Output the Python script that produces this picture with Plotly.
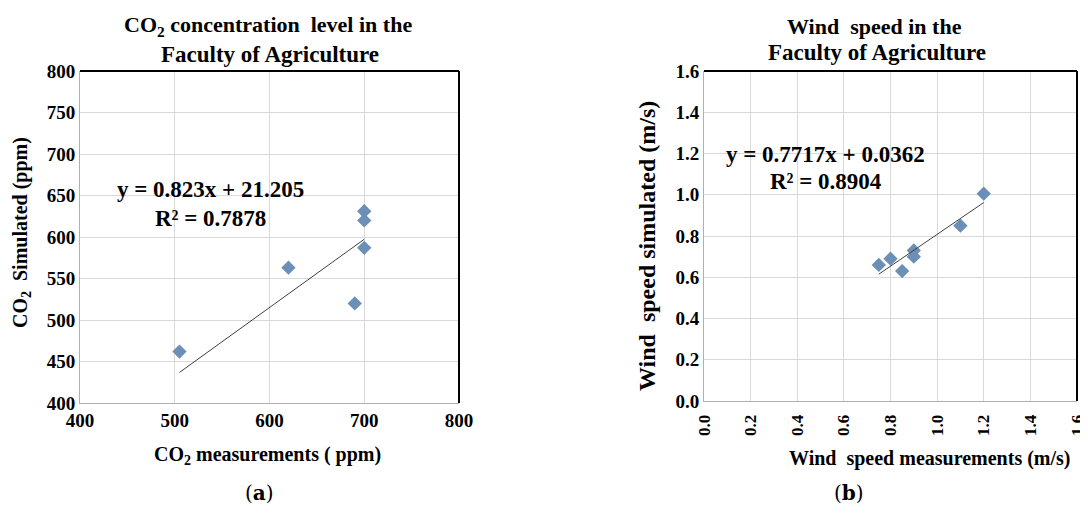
import plotly.graph_objects as go

# ---- data ----
co2_measured = [505, 620, 690, 700, 700, 700]
co2_simulated = [462, 563, 520, 631, 620, 587]
co2_slope, co2_intercept = 0.823, 21.205
co2_r2 = 0.7878

wind_measured = [0.75, 0.80, 0.85, 0.90, 0.90, 1.10, 1.20]
wind_simulated = [0.66, 0.69, 0.63, 0.73, 0.70, 0.85, 1.005]
wind_slope, wind_intercept = 0.7717, 0.0362
wind_r2 = 0.8904

co2_ticks = [400, 500, 600, 700, 800]
co2_yticks = [400, 450, 500, 550, 600, 650, 700, 750, 800]
wind_ticks = [0.0, 0.2, 0.4, 0.6, 0.8, 1.0, 1.2, 1.4, 1.6]

# page body has an 8px margin; size the figure to fit inside the window
OFF = 8
W, H = 1088 - OFF, 520 - OFF
FONT = "Liberation Serif"
MARKER = "#6b8fb6"

def px(x):
    return (x - OFF) / W

def py(y):
    return 1 - (y - OFF) / H

fig = go.Figure()

# CO2 scatter + trendline
fig.add_trace(go.Scatter(x=co2_measured, y=co2_simulated, mode="markers",
                         marker=dict(symbol="diamond", size=11, color=MARKER),
                         xaxis="x", yaxis="y", showlegend=False))
cx = [min(co2_measured), max(co2_measured)]
fig.add_trace(go.Scatter(x=cx, y=[co2_slope * v + co2_intercept for v in cx], mode="lines",
                         line=dict(color="#404040", width=1),
                         xaxis="x", yaxis="y", showlegend=False))

# Wind scatter + trendline
fig.add_trace(go.Scatter(x=wind_measured, y=wind_simulated, mode="markers",
                         marker=dict(symbol="diamond", size=11, color=MARKER),
                         xaxis="x2", yaxis="y2", showlegend=False))
wx = [min(wind_measured), max(wind_measured)]
fig.add_trace(go.Scatter(x=wx, y=[wind_slope * v + wind_intercept for v in wx], mode="lines",
                         line=dict(color="#404040", width=1),
                         xaxis="x2", yaxis="y2", showlegend=False))

tickfont = dict(family=FONT, size=19, color="black", weight="bold")
grid = "#d9d9d9"
axcommon = dict(showgrid=True, gridcolor=grid, gridwidth=1, zeroline=False,
                showline=True, linecolor="#b0b0b0", linewidth=1, ticks="",
                tickfont=tickfont, automargin=False, ticklabeloverflow="allow")
ax2x = dict(axcommon)
ax2x["tickfont"] = dict(family=FONT, size=17, color="black", weight="bold")

fig.update_layout(
    width=W, height=H,
    margin=dict(l=0, r=0, t=0, b=0),
    paper_bgcolor="white", plot_bgcolor="white",
    xaxis=dict(domain=[px(80), px(459)], range=[400, 800], tickvals=co2_ticks,
               anchor="y", **axcommon),
    yaxis=dict(domain=[py(403), py(71)], range=[400, 800], tickvals=co2_yticks,
               anchor="x", **axcommon),
    xaxis2=dict(domain=[px(704), px(1077)], range=[0, 1.6], tickvals=wind_ticks,
                tickformat=".1f", tickangle=-90, anchor="y2", ticklabelstandoff=6,
                **ax2x),
    yaxis2=dict(domain=[py(401), py(71)], range=[0, 1.6], tickvals=wind_ticks,
                tickformat=".1f", anchor="x2", **axcommon),
)

# frame: top and right borders black
for xr, yr in (("x domain", "y domain"), ("x2 domain", "y2 domain")):
    fig.add_shape(type="line", xref=xr, yref=yr, x0=0, x1=1, y0=1, y1=1,
                  line=dict(color="black", width=2))
    fig.add_shape(type="line", xref=xr, yref=yr, x0=1, x1=1, y0=0, y1=1,
                  line=dict(color="black", width=2))

def ann(text, x, y, size, angle=0, bold=True, family=FONT):
    fig.add_annotation(text=text, x=px(x), y=py(y), xref="paper", yref="paper",
                       showarrow=False, textangle=angle, xanchor="center", yanchor="middle",
                       font=dict(family=family, size=size, color="black",
                                 weight="bold" if bold else "normal"))

# titles
ann("CO<sub>2</sub> concentration  level in the", 268, 26, 22)
ann("Faculty of Agriculture", 270, 54, 23)
ann("Wind  speed in the", 874, 26, 22)
ann("Faculty of Agriculture", 877, 52, 23)

# axis titles
ann("CO<sub>2</sub> measurements ( ppm)", 267, 455, 20)
ann("CO<sub>2</sub>  Simulated (ppm)", 21, 233, 20, angle=-90)
ann("Wind  speed measurements (m/s)", 929, 458, 20)
ann("Wind  speed simulated (m/s)", 647, 246, 24, angle=-90)

# equations (data coordinates)
eqfont = dict(family=FONT, size=23, color="black", weight="bold")
fig.add_annotation(text=f"y = {co2_slope}x + {co2_intercept}", x=538, y=657, xref="x", yref="y",
                   showarrow=False, font=eqfont)
fig.add_annotation(text=f"R² = {co2_r2}", x=538, y=622, xref="x", yref="y",
                   showarrow=False, font=eqfont)
fig.add_annotation(text=f"y = {wind_slope}x + {wind_intercept}", x=0.523, y=1.195, xref="x2", yref="y2",
                   showarrow=False, font=eqfont)
fig.add_annotation(text=f"R² = {wind_r2}", x=0.523, y=1.065, xref="x2", yref="y2",
                   showarrow=False, font=eqfont)

# panel labels
fig.add_annotation(text="(<b>a</b>)", x=px(243), y=py(507), xref="paper", yref="paper",
                   showarrow=False, font=dict(family="DejaVu Serif", size=20, color="black"))
fig.add_annotation(text="(<b>b</b>)", x=px(866), y=py(507), xref="paper", yref="paper",
                   showarrow=False, font=dict(family="DejaVu Serif", size=20, color="black"))

fig.write_html("out.html")
